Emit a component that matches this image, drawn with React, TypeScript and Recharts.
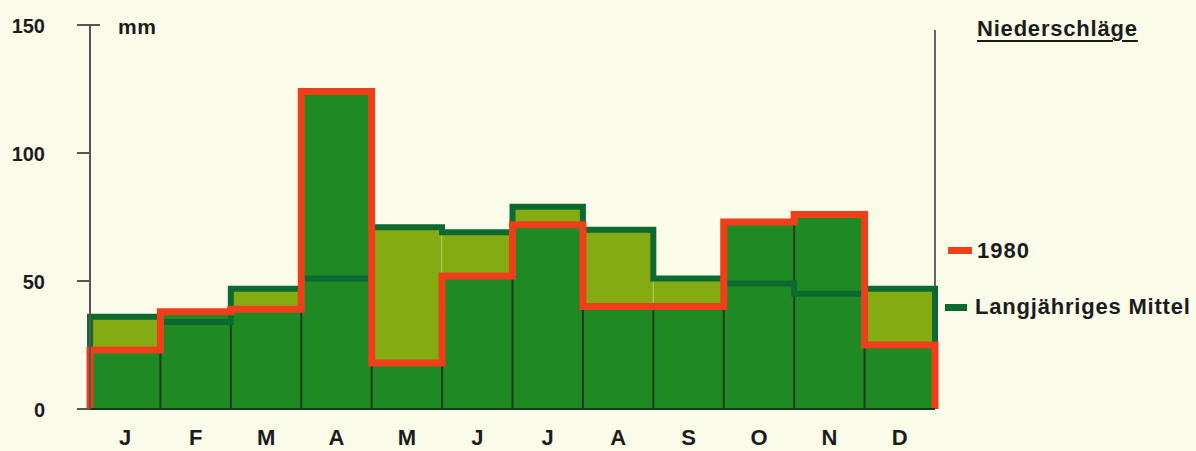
import React from "react";
import {
  Bar,
  ComposedChart,
  Line,
  ReferenceLine,
  XAxis,
  YAxis,
} from "recharts";

const months = ["J", "F", "M", "A", "M", "J", "J", "A", "S", "O", "N", "D"];
const rain1980 = [23, 38, 39, 124, 18, 52, 72, 40, 40, 73, 76, 25];
const rainMean = [36, 34, 47, 51, 71, 69, 79, 70, 51, 49, 45, 47];
const yTicks = [0, 50, 100, 150];

const FONT = '"Liberation Sans", Arial, Helvetica, sans-serif';
const DARK = "#1f8a24";
const LIGHT = "#84ac12";
const MEAN = "#0c6a30";
const RED = "#ef3f1a";
const SEP = "#123d18";
const TEXT = "#1c1c1c";

const chartData = months.map((m, i) => ({
  idx: i,
  dark: rain1980[i],
  light: Math.max(0, rainMean[i] - rain1980[i]),
}));

// outline of a histogram: up from 0 at the left, across each month, down to 0 at the right
function stepOutline(values: number[]) {
  return [
    { x: 0, v: 0 },
    ...values.map((v, i) => ({ x: i, v })),
    { x: values.length, v: values[values.length - 1] },
    { x: values.length, v: 0 },
  ];
}

const redSteps = stepOutline(rain1980);
const meanSteps = stepOutline(rainMean);

function DarkBar(props: any) {
  const { x, y, width, height, index } = props;
  const v = rain1980[index];
  const prev = index > 0 ? rain1980[index - 1] : 0;
  const sepH = v > 0 ? (height * Math.min(v, prev)) / v : 0;
  return (
    <g>
      <rect x={x} y={y} width={width} height={height} fill={DARK} />
      {index > 0 && (
        <line x1={x} x2={x} y1={y + height} y2={y + height - sepH} stroke={SEP} strokeWidth={2} />
      )}
    </g>
  );
}

function YTick(props: any) {
  const { x, y, payload } = props;
  return (
    <g>
      <line x1={x - 13} x2={payload.value === 150 ? x + 10 : x} y1={y} y2={y} stroke="#555" strokeWidth={2} />
      <text x={x - 45} y={y + 8} textAnchor="end" fontFamily={FONT} fontWeight="bold" fontSize={20} fill={TEXT}>
        {payload.value}
      </text>
    </g>
  );
}

function XTick(props: any) {
  const { x, y, payload } = props;
  return (
    <text x={x} y={y + 36} textAnchor="middle" fontFamily={FONT} fontWeight="bold" fontSize={22} fill={TEXT}>
      {months[payload.value]}
    </text>
  );
}

const textStyle: React.CSSProperties = {
  position: "absolute",
  fontFamily: FONT,
  fontWeight: "bold",
  color: TEXT,
  whiteSpace: "nowrap",
  lineHeight: 1,
};

export default function App() {
  return (
    <div style={{ position: "absolute", left: 0, top: 0, width: 1196, height: 451, background: "#fbfbe9", overflow: "hidden" }}>
      <ComposedChart
        width={1196}
        height={451}
        data={chartData}
        margin={{ top: 25, right: 261, bottom: 0, left: 0 }}
        barCategoryGap={0}
        barGap={0}
      >
        <XAxis
          dataKey="idx"
          type="category"
          height={42}
          axisLine={{ stroke: SEP, strokeWidth: 2 }}
          tickLine={false}
          tickSize={0}
          tickMargin={0}
          tick={<XTick />}
          interval={0}
        />
        <XAxis xAxisId="num" type="number" dataKey="x" domain={[0, 12]} hide height={0} orientation="top" />
        <YAxis
          width={90}
          domain={[0, 150]}
          ticks={yTicks}
          axisLine={{ stroke: "#555", strokeWidth: 2 }}
          tickLine={false}
          tickSize={0}
          tickMargin={0}
          tick={<YTick />}
          interval={0}
        />
        <ReferenceLine
          xAxisId="num"
          segment={[
            { x: 12, y: rainMean[11] },
            { x: 12, y: 148 },
          ]}
          stroke="#666"
          strokeWidth={2}
        />
        <Bar dataKey="dark" stackId="a" shape={<DarkBar />} isAnimationActive={false} />
        <Bar dataKey="light" stackId="a" fill={LIGHT} isAnimationActive={false} />
        <Line
          xAxisId="num"
          data={meanSteps}
          dataKey="v"
          type="stepAfter"
          stroke={MEAN}
          strokeWidth={6}
          dot={false}
          activeDot={false}
          isAnimationActive={false}
        />
        <Line
          xAxisId="num"
          data={redSteps}
          dataKey="v"
          type="stepAfter"
          stroke={RED}
          strokeWidth={7}
          dot={false}
          activeDot={false}
          isAnimationActive={false}
        />
      </ComposedChart>

      <div style={{ ...textStyle, left: 118, top: 16, fontSize: 21, letterSpacing: 0.5 }}>mm</div>
      <div style={{ ...textStyle, left: 977, top: 18, fontSize: 22, letterSpacing: 0.8, textDecoration: "underline", textDecorationThickness: 2, textUnderlineOffset: 4 }}>
        Niederschläge
      </div>

      <div style={{ position: "absolute", left: 948, top: 247, width: 24, height: 7, background: RED }} />
      <div style={{ ...textStyle, left: 977, top: 240, fontSize: 22, letterSpacing: 1 }}>1980</div>
      <div style={{ position: "absolute", left: 945, top: 304, width: 22, height: 7, background: MEAN }} />
      <div style={{ ...textStyle, left: 975, top: 296, fontSize: 22, letterSpacing: 0.8 }}>Langjähriges Mittel</div>
    </div>
  );
}
